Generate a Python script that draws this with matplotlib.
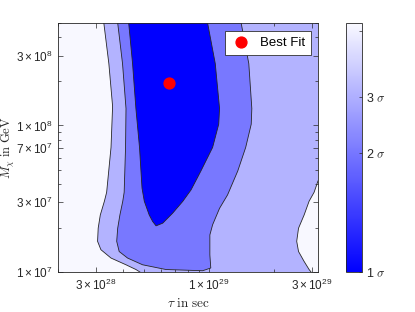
import matplotlib
matplotlib.use('Agg')
import matplotlib.pyplot as plt
from matplotlib.colors import LinearSegmentedColormap, Normalize
from matplotlib.cm import ScalarMappable
from matplotlib.ticker import FixedLocator, FixedFormatter, LogLocator, NullFormatter

plt.rcParams['font.family'] = ['Liberation Sans', 'DejaVu Sans']
plt.rcParams['mathtext.fontset'] = 'custom'
plt.rcParams['mathtext.rm'] = 'Liberation Sans'
plt.rcParams['mathtext.it'] = 'Liberation Sans:italic'
plt.rcParams['mathtext.bf'] = 'Liberation Sans:bold'

# ---------------- data ----------------
tau_lim = [2.0e28, 3.2e29]
M_lim = [1.0e7, 5.0e8]

x_ticks = [3e28, 1e29, 3e29]
x_ticklabels = [r'$3\times10^{28}$', r'$1\times10^{29}$', r'$3\times10^{29}$']
y_ticks = [1e7, 3e7, 7e7, 1e8, 3e8]
y_ticklabels = [r'$1\times10^{7}$', r'$3\times10^{7}$', r'$7\times10^{7}$',
                r'$1\times10^{8}$', r'$3\times10^{8}$']

# 3 sigma contour, left branch (top -> bottom)
c3_left_tau = [3.26e28, 3.44e28, 3.58e28, 3.52e28, 3.36e28, 3.28e28, 3.14e28,
               3.07e28, 3.05e28, 3.16e28, 3.52e28, 4.13e28, 4.59e28, 4.79e28]
c3_left_M = [5.0e8, 2.64e8, 1.35e8, 7.08e7, 3.50e7, 3.04e7, 2.45e7,
             1.99e7, 1.62e7, 1.42e7, 1.245e7, 1.12e7, 1.04e7, 1.0e7]
# 3 sigma contour, right branch (right edge -> bottom)
c3_right_tau = [3.2e29, 3.07e29, 2.91e29, 2.76e29, 2.60e29, 2.55e29, 2.60e29,
                2.76e29, 2.91e29, 2.97e29]
c3_right_M = [4.18e7, 3.50e7, 3.04e7, 2.45e7, 1.99e7, 1.62e7, 1.38e7,
              1.18e7, 1.04e7, 1.0e7]
# 2 sigma contour (top-left -> around -> top-right)
c2_tau = [3.78e28, 3.98e28, 4.13e28, 4.11e28, 4.05e28, 3.99e28, 3.87e28, 3.78e28,
          3.74e28, 3.84e28, 4.20e28, 4.93e28, 6.32e28, 9.35e28, 1.02e29, 1.01e29,
          1.01e29, 1.04e29, 1.12e29, 1.22e29, 1.36e29, 1.48e29, 1.57e29, 1.58e29,
          1.53e29, 1.41e29]
c2_M = [5.0e8, 2.64e8, 1.305e8, 7.08e7, 3.50e7, 3.04e7, 2.45e7, 1.99e7,
        1.62e7, 1.38e7, 1.245e7, 1.12e7, 1.04e7, 1.02e7, 1.065e7, 1.31e7,
        1.79e7, 2.10e7, 2.72e7, 3.36e7, 4.89e7, 7.08e7, 1.02e8, 1.305e8,
        2.64e8, 5.0e8]
# 1 sigma contour
c1_tau = [4.25e28, 4.43e28, 4.59e28, 4.77e28, 4.90e28, 5.02e28, 5.29e28, 5.49e28,
          5.69e28, 6.11e28, 6.79e28, 7.56e28, 8.26e28, 9.18e28, 1.04e29, 1.11e29,
          1.12e29, 1.07e29, 9.86e28]
c1_M = [5.0e8, 2.64e8, 1.305e8, 7.08e7, 3.73e7, 3.04e7, 2.45e7, 2.21e7,
        2.065e7, 2.154e7, 2.52e7, 3.03e7, 3.63e7, 4.89e7, 7.08e7, 1.02e8,
        1.305e8, 2.64e8, 5.0e8]

best_tau = [6.55e28]
best_M = [1.95e8]

cbar_ticks = [0.0, 0.478, 0.703, 0.968]
cbar_labels = [r'1 $\sigma$', r'2 $\sigma$', r'3 $\sigma$', '']

col_out = '#F8F8FF'
col_3 = '#B3B3FF'
col_2 = '#7878FF'
col_1 = '#0000FF'
edge = '#262626'

# ---------------- figure ----------------
W, H = 415, 312
fig = plt.figure(figsize=(W / 100, H / 100), dpi=100)
ax = fig.add_axes([58 / W, 1 - 272 / H, 260 / W, 249 / H])
ax.set_xscale('log')
ax.set_yscale('log')
ax.set_xlim(tau_lim)
ax.set_ylim(M_lim)
ax.set_facecolor(col_out)

# 3 sigma region
p3x = c3_left_tau + c3_right_tau[::-1] + [tau_lim[1]]
p3y = c3_left_M + c3_right_M[::-1] + [M_lim[1]]
ax.fill(p3x, p3y, color=col_3, lw=0, zorder=1)
ax.fill(c2_tau, c2_M, color=col_2, lw=0, zorder=2)
ax.fill(c1_tau, c1_M, color=col_1, lw=0, zorder=3)

for xs, ys in [(c3_left_tau, c3_left_M), (c3_right_tau, c3_right_M),
               (c2_tau, c2_M), (c1_tau, c1_M)]:
    ax.plot(xs, ys, color=edge, lw=0.6, zorder=4, solid_joinstyle='round')

ax.plot(best_tau, best_M, 'o', color='red', ms=7.8, mec='red', zorder=5,
        label='Best Fit', linestyle='none')

leg = ax.legend(loc='upper right', bbox_to_anchor=((311 - 58) / 260, (272 - 31) / 249),
                borderaxespad=0, fancybox=False, framealpha=1, edgecolor='#303030',
                fontsize=9.5, handletextpad=0.6, borderpad=0.45, handlelength=1.6)
leg.get_frame().set_linewidth(0.6)

ax.xaxis.set_major_locator(FixedLocator(x_ticks))
ax.xaxis.set_major_formatter(FixedFormatter(x_ticklabels))
ax.yaxis.set_major_locator(FixedLocator(y_ticks))
ax.yaxis.set_major_formatter(FixedFormatter(y_ticklabels))
ax.xaxis.set_minor_locator(LogLocator(base=10, subs=range(1, 10)))
ax.yaxis.set_minor_locator(LogLocator(base=10, subs=range(1, 10)))
ax.xaxis.set_minor_formatter(NullFormatter())
ax.yaxis.set_minor_formatter(NullFormatter())
ax.tick_params(which='both', direction='in', top=True, right=True,
               color='#262626', width=0.5, labelsize=8.5, labelcolor='#262626')
ax.tick_params(which='major', length=3.5, pad=4)
ax.tick_params(which='minor', length=2)
for sp in ax.spines.values():
    sp.set_linewidth(0.6)
    sp.set_color('#262626')
    sp.set_zorder(6)

ax.set_xlabel(r'$\tau\ \mathrm{in\ sec}$', fontsize=9.5, math_fontfamily='cm',
              color='#262626', labelpad=3)
ax.set_ylabel(r'$M_\chi\ \mathrm{in\ GeV}$', fontsize=9, math_fontfamily='cm',
              color='#262626')
ax.yaxis.set_label_coords(-0.158, 0.5)

# colorbar
cmap = LinearSegmentedColormap.from_list('bw', [(0, 0, 1), (0.975, 0.975, 1)])
cax = fig.add_axes([346 / W, 1 - 272 / H, 16 / W, 249 / H])
cb = fig.colorbar(ScalarMappable(norm=Normalize(0, 1), cmap=cmap), cax=cax)
cb.set_ticks(cbar_ticks)
cb.set_ticklabels(cbar_labels)
cb.outline.set_linewidth(0.6)
cb.outline.set_edgecolor('#262626')
cax.tick_params(direction='in', length=2.5, width=0.5, color='#262626',
                labelsize=9, labelcolor='#262626', pad=3)
for t in cax.get_yticklabels():
    t.set_math_fontfamily('cm')

fig.savefig('out.png', dpi=100)
